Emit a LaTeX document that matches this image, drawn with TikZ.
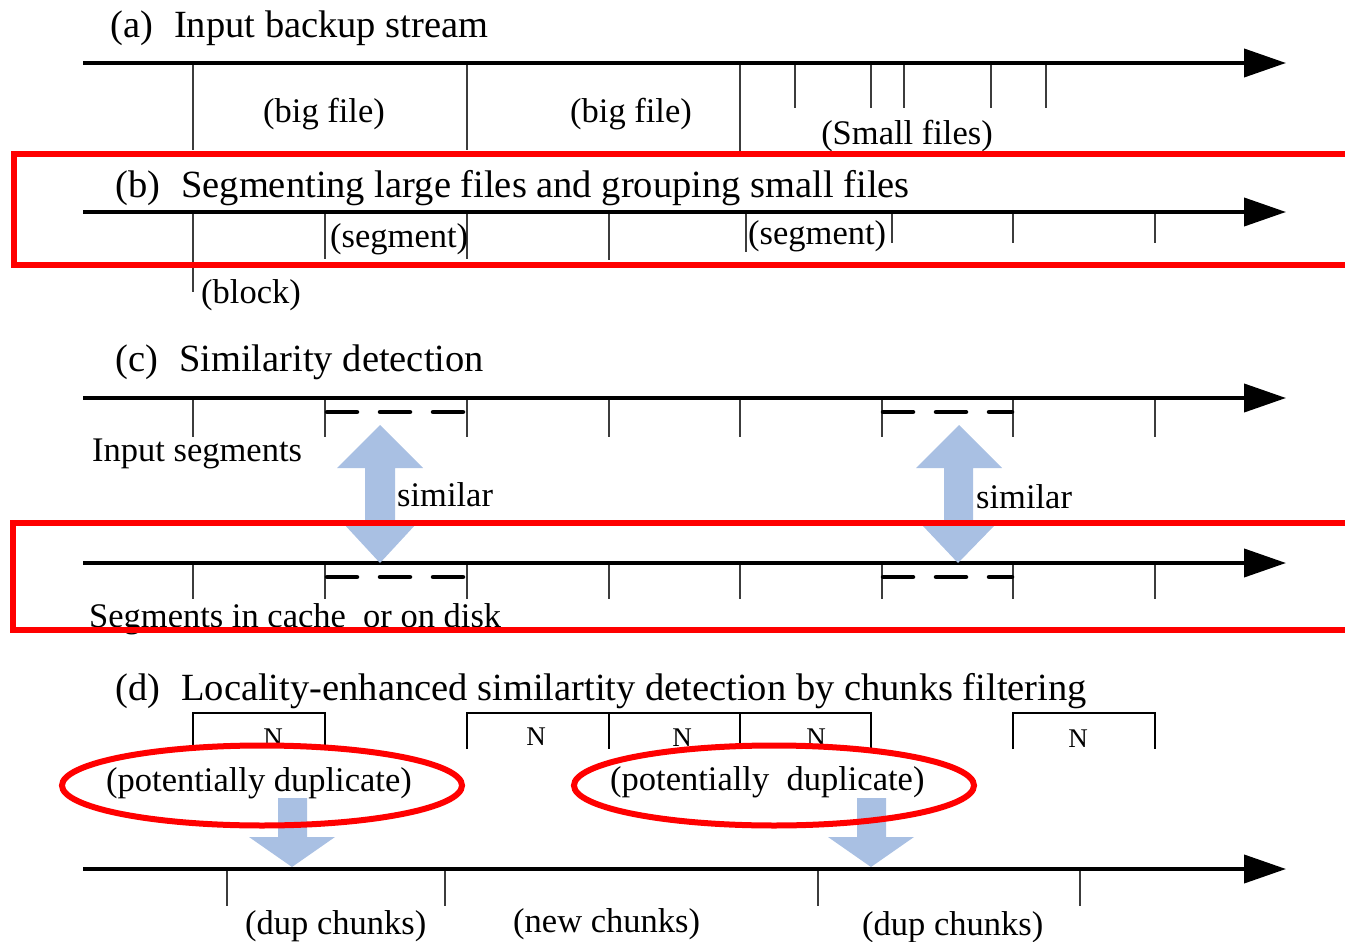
\documentclass[tikz,border=0pt]{standalone}
\usepackage{fontspec}
\setmainfont{Liberation Serif}
\usetikzlibrary{arrows.meta}
\definecolor{arrowblue}{RGB}{169,192,227}
\definecolor{boxred}{RGB}{255,0,0}
\definecolor{tickgray}{RGB}{60,60,60}

\begin{document}
\begin{tikzpicture}[x=1pt,y=-1pt,
  title/.style={font=\fontsize{38.5}{44}\selectfont, anchor=base west, inner sep=0pt},
  lbl/.style={font=\fontsize{34.5}{40}\selectfont, anchor=base west, inner sep=0pt},
  clbl/.style={font=\fontsize{34.5}{40}\selectfont, anchor=base, inner sep=0pt},
  nlbl/.style={font=\fontsize{27}{32}\selectfont, anchor=base, inner sep=0pt},
  stream/.style={line width=4pt, -{Triangle[length=42pt,width=28pt]}},
  tickline/.style={line width=1.3pt, draw=tickgray},
  matchline/.style={line width=4.5pt, line cap=round, dash pattern=on 30pt off 23pt},
  flow/.style={fill=arrowblue, draw=none},
  frame/.style={draw=boxred, line width=6pt},
]
\useasboundingbox (0,0) rectangle (1345,942);
\clip (0,0) rectangle (1345,942);

% ---------- (a) input backup stream ----------
\node[title] (ta) at (110,38) {(a)\hspace{0.55em}Input backup stream};
\foreach \x/\b in {193/150,467/150,740/152,795/108,871/108,904/108,991/108,1046/108}
  \draw[tickline] (\x,63) -- (\x,\b);
\coordinate (a0) at (83,63); \coordinate (a1) at (1286,63);
\draw[stream] (a0) -- (a1);
\node[clbl] (bf1) at (324,122) {(big file)};
\node[clbl] (bf2) at (631,122) {(big file)};
\node[clbl] (sf) at (907,144) {(Small files)};

% ---------- (b) segmenting ----------
\node[title] (tb) at (115,197) {(b)\hspace{0.55em}Segmenting large files and grouping small files};
\foreach \x/\b in {193/292,325/259,467/259,609/260,746/252,892/243,1013/243,1155/243}
  \draw[tickline] (\x,212) -- (\x,\b);
\coordinate (b0) at (83,212); \coordinate (b1) at (1286,212);
\draw[stream] (b0) -- (b1);
\node[lbl] (sg1) at (330,247) {(segment)};
\node[lbl] (sg2) at (748,244) {(segment)};
\node[lbl] (blk) at (201,303) {(block)};

% ---------- (c) similarity detection ----------
\node[title] (tc) at (115,371) {(c)\hspace{0.55em}Similarity detection};
\foreach \x in {193,325,467,609,740,882,1013,1155}{
  \draw[tickline] (\x,398) -- (\x,437);
  \draw[tickline] (\x,563) -- (\x,599);
}
\coordinate (c0) at (83,398); \coordinate (c1) at (1286,398);
\coordinate (d0) at (83,563); \coordinate (d1) at (1286,563);
\draw[stream] (c0) -- (c1);
\draw[stream] (d0) -- (d1);
\draw[matchline] (327,412) -- (466,412);
\draw[matchline] (883,412) -- (1012,412);
\draw[matchline] (327,577) -- (466,577);
\draw[matchline] (883,577) -- (1012,577);
\node[lbl] (ins) at (92,461) {Input segments};
\node[lbl] (cs) at (89,627) {Segments in cache\ \ or on disk};

% double arrows between matching segments
\fill[flow] (380,425) -- (423,468) -- (395,468) -- (395,523) -- (417,523) -- (380,563)
  -- (343,523) -- (365,523) -- (365,468) -- (337,468) -- cycle;
\fill[flow] (959,425) -- (1002,468) -- (973,468) -- (973,525) -- (995,525) -- (958,563)
  -- (922,525) -- (944,525) -- (944,468) -- (916,468) -- cycle;
\node[lbl] (sim1) at (397,506) {similar};
\node[lbl] (sim2) at (976,508) {similar};

% ---------- (d) locality-enhanced detection ----------
\node[title] (td) at (115,700) {(d)\hspace{0.55em}Locality-enhanced similartity detection by chunks filtering};
\draw[line width=1.2pt] (193,746) -- (193,713) -- (325,713) -- (325,746);
\draw[line width=1.2pt] (467,749) -- (467,713) -- (871,713) -- (871,749);
\draw[line width=1.2pt] (609,713) -- (609,749);
\draw[line width=1.2pt] (740,713) -- (740,749);
\draw[line width=1.2pt] (1013,749) -- (1013,713) -- (1155,713) -- (1155,749);
\node[nlbl] (n1) at (273,746) {N};
\node[nlbl] (n2) at (536,745) {N};
\node[nlbl] (n3) at (682,746) {N};
\node[nlbl] (n4) at (816,746) {N};
\node[nlbl] (n5) at (1078,747) {N};

\node[lbl] (pd1) at (106,791) {(potentially duplicate)};
\node[lbl] (pd2) at (610,790) {(potentially\ \ duplicate)};

\fill[flow] (278,798) -- (307,798) -- (307,837) -- (335,837) -- (292,867)
  -- (249,837) -- (278,837) -- cycle;
\fill[flow] (857,798) -- (886,798) -- (886,837) -- (914,837) -- (871,867)
  -- (828,837) -- (857,837) -- cycle;

\foreach \x in {227,445,818,1080}
  \draw[tickline] (\x,869) -- (\x,906);
\coordinate (e0) at (83,869); \coordinate (e1) at (1286,869);
\draw[stream] (e0) -- (e1);
\node[lbl] (dc1) at (245,934) {(dup chunks)};
\node[lbl] (nc) at (513,932) {(new chunks)};
\node[lbl] (dc2) at (862,935) {(dup chunks)};

% ---------- red highlights ----------
\draw[frame] (14,154) rectangle (1380,265);
\draw[frame] (13,523) rectangle (1380,630);
\draw[frame] (262,785.5) ellipse [x radius=200, y radius=40];
\draw[frame] (774,785.5) ellipse [x radius=200, y radius=40];
\end{tikzpicture}
\end{document}
